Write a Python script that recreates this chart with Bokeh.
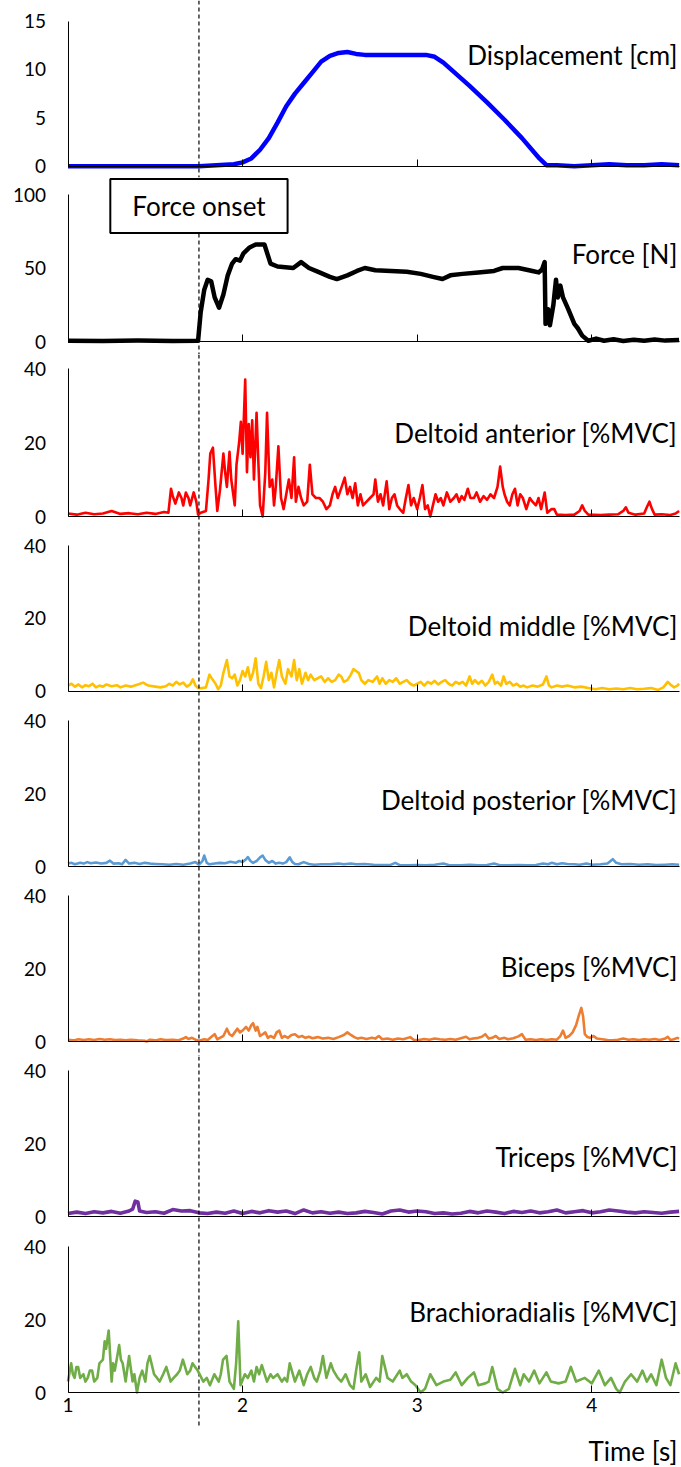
from bokeh.plotting import figure
from bokeh.models import Range1d, Span, Label, FixedTicker
from bokeh.layouts import column
from bokeh.embed import file_html
from bokeh.resources import INLINE

# ---------------- data ----------------
onset = 1.75
x_ticks = [1, 2, 3, 4]
x_start, x_end = 1.0, 4.5

disp_t = [1.0, 1.5, 1.75, 1.85, 1.95, 2.0, 2.05, 2.1, 2.15, 2.2, 2.25, 2.3, 2.35, 2.4, 2.45,
          2.5, 2.55, 2.6, 2.65, 2.7, 2.8, 2.9, 3.0, 3.05, 3.1, 3.15, 3.2, 3.3, 3.4, 3.5,
          3.6, 3.7, 3.74, 3.8, 3.9, 4.0, 4.1, 4.2, 4.3, 4.4, 4.5]
disp_v = [0.0, 0.0, 0.0, 0.1, 0.2, 0.4, 0.8, 1.7, 2.9, 4.5, 6.2, 7.5, 8.6, 9.7, 10.8,
          11.4, 11.7, 11.8, 11.6, 11.5, 11.5, 11.5, 11.5, 11.5, 11.3, 10.7, 9.9, 8.3, 6.6, 4.8,
          2.9, 0.8, 0.1, 0.1, 0.0, 0.1, 0.2, 0.1, 0.1, 0.2, 0.1]

force_t = [1.0, 1.2, 1.4, 1.6, 1.745, 1.76, 1.78, 1.80, 1.82, 1.84, 1.865, 1.89, 1.915, 1.94,
           1.96, 1.985, 2.005, 2.04, 2.075, 2.125, 2.16, 2.2, 2.245, 2.29, 2.335, 2.38, 2.44,
           2.5, 2.54, 2.6, 2.655, 2.7, 2.76, 2.85, 2.94, 3.02, 3.09, 3.145, 3.19, 3.26, 3.35,
           3.44, 3.49, 3.58, 3.66, 3.695, 3.715, 3.73, 3.735, 3.75, 3.76, 3.78, 3.795, 3.805,
           3.82, 3.835, 3.865, 3.9, 3.92, 3.945, 3.98, 4.025, 4.07, 4.125, 4.18, 4.24, 4.3,
           4.36, 4.42, 4.5]
force_v = [0.5, 0.3, 0.6, 0.4, 0.5, 20, 35, 42, 41, 30, 23, 32, 45, 53,
           56, 55, 60, 64, 66, 66, 53, 51, 50.5, 50, 54, 50, 47,
           44, 42.5, 45, 48, 50, 48.5, 48, 47.5, 46, 44, 42.5, 45, 46, 47,
           48, 50, 50, 48, 47, 49, 54, 12, 22, 11, 25, 42, 30,
           38, 30, 22, 12, 9, 4, 0.5, 2, 0.5, 1.5, 0.4, 1.2, 0.5,
           1.3, 0.6, 1.0]

dant_t = [1.00, 1.05, 1.10, 1.15, 1.20, 1.25, 1.30, 1.35, 1.40, 1.45, 1.50, 1.55, 1.575, 1.59,
          1.60, 1.615, 1.635, 1.65, 1.66, 1.675, 1.69, 1.70, 1.72, 1.735, 1.745, 1.76, 1.79,
          1.805, 1.815, 1.83, 1.845, 1.855, 1.87, 1.88, 1.89, 1.90, 1.91, 1.925, 1.935, 1.955,
          1.965, 1.98, 1.99, 2.00, 2.015, 2.025, 2.035, 2.045, 2.055, 2.065, 2.08, 2.09, 2.10,
          2.115, 2.13, 2.14, 2.155, 2.17, 2.18, 2.19, 2.205, 2.22, 2.235, 2.25, 2.265, 2.28,
          2.295, 2.305, 2.32, 2.335, 2.35, 2.37, 2.385, 2.40, 2.42, 2.44, 2.46, 2.48, 2.50,
          2.515, 2.53, 2.545, 2.56, 2.585, 2.60, 2.615, 2.63, 2.645, 2.66, 2.675, 2.69, 2.71,
          2.73, 2.75, 2.76, 2.775, 2.79, 2.805, 2.825, 2.84, 2.855, 2.87, 2.885, 2.90, 2.92,
          2.935, 2.95, 2.965, 2.98, 3.00, 3.015, 3.03, 3.045, 3.06, 3.075, 3.09, 3.105, 3.12,
          3.135, 3.15, 3.17, 3.19, 3.21, 3.225, 3.24, 3.255, 3.27, 3.29, 3.305, 3.325, 3.34,
          3.36, 3.38, 3.40, 3.42, 3.44, 3.46, 3.475, 3.49, 3.50, 3.515, 3.53, 3.545, 3.56,
          3.575, 3.59, 3.605, 3.625, 3.645, 3.66, 3.68, 3.695, 3.71, 3.73, 3.745, 3.77, 3.785,
          3.80, 3.85, 3.90, 3.93, 3.945, 3.96, 3.98, 4.05, 4.10, 4.15, 4.18, 4.195, 4.21, 4.25,
          4.30, 4.315, 4.33, 4.345, 4.36, 4.40, 4.45, 4.48, 4.50]
dant_v = [0.8, 0.5, 1.0, 0.6, 0.8, 1.5, 0.7, 0.9, 0.6, 1.0, 0.7, 1.2, 1.0, 7.5,
          5.5, 3.5, 6.5, 5.0, 3.0, 6.5, 5.0, 3.0, 6.5, 4.0, 0.5, 1.0, 1.5,
          10, 17, 18.6, 8, 1.5, 7, 12, 17, 12, 8, 17.5, 10, 3,
          14, 20, 25.6, 17, 37, 12, 25, 16, 26, 10, 28, 15, 3,
          0, 12, 28, 8, 10, 3, 8, 19, 5, 2, 6, 10, 5,
          16, 4, 8, 5, 3, 4, 14, 6, 5, 5, 4, 2, 3,
          6, 8, 5, 7, 10.5, 6, 8, 5, 9, 3, 6, 3, 4,
          5, 6, 10, 4, 6, 3, 9.5, 2, 5, 6, 3, 2, 1,
          5, 8.5, 3, 5, 2, 5, 8.5, 2, 3, 0, 3, 6, 4,
          5, 3, 6.5, 4, 5, 6, 4, 5.5, 4.5, 7.5, 5, 5, 6.5,
          4, 5.5, 4.5, 6, 5, 8, 13.5, 8, 6, 4, 3, 6, 7.5,
          3, 6, 5, 2, 5, 4, 3, 5, 2, 6.5, 1, 2, 2,
          0.5, 0.4, 0.5, 1.5, 3, 1.5, 0.5, 0.4, 0.5, 0.6, 1.5, 2.5, 1, 0.5,
          0.8, 2.5, 4, 2, 0.5, 0.6, 0.4, 0.8, 1.5]

dmid_t = [1.00, 1.02, 1.04, 1.06, 1.08, 1.10, 1.12, 1.14, 1.16, 1.18, 1.20, 1.22, 1.25, 1.28,
          1.30, 1.33, 1.36, 1.40, 1.43, 1.46, 1.50, 1.53, 1.56, 1.58, 1.60, 1.62, 1.64, 1.66,
          1.68, 1.70, 1.715, 1.73, 1.745, 1.77, 1.79, 1.81, 1.83, 1.845, 1.86, 1.875, 1.89,
          1.91, 1.925, 1.94, 1.955, 1.97, 1.985, 2.00, 2.015, 2.03, 2.045, 2.06, 2.075, 2.09,
          2.105, 2.12, 2.135, 2.15, 2.165, 2.18, 2.195, 2.21, 2.225, 2.245, 2.26, 2.28, 2.295,
          2.31, 2.325, 2.34, 2.36, 2.375, 2.39, 2.41, 2.43, 2.45, 2.47, 2.49, 2.51, 2.53, 2.55,
          2.565, 2.58, 2.60, 2.62, 2.635, 2.65, 2.665, 2.68, 2.70, 2.72, 2.745, 2.77, 2.785,
          2.80, 2.82, 2.84, 2.86, 2.88, 2.90, 2.92, 2.94, 2.96, 2.98, 3.00, 3.02, 3.04, 3.06,
          3.08, 3.10, 3.12, 3.14, 3.16, 3.18, 3.20, 3.22, 3.24, 3.26, 3.28, 3.30, 3.315, 3.33,
          3.35, 3.37, 3.39, 3.41, 3.43, 3.445, 3.46, 3.48, 3.495, 3.51, 3.53, 3.55, 3.57, 3.59,
          3.61, 3.63, 3.66, 3.69, 3.72, 3.74, 3.755, 3.77, 3.80, 3.83, 3.86, 3.90, 3.94, 3.98,
          4.02, 4.06, 4.10, 4.14, 4.18, 4.22, 4.26, 4.30, 4.34, 4.38, 4.41, 4.435, 4.45, 4.47,
          4.49, 4.50]
dmid_v = [1.5, 2.0, 1.2, 1.8, 1.0, 1.6, 1.3, 2.0, 1.0, 1.5, 1.2, 1.8, 1.3, 1.6,
          1.0, 1.5, 1.2, 1.8, 2.3, 1.5, 1.2, 1.0, 1.3, 2.0, 1.5, 2.5, 1.8, 2.3,
          1.2, 1.8, 3.2, 1.5, 0.8, 0.8, 1.0, 4.5, 3.0, 2.0, 0.5, 1.5, 5.0,
          8.5, 4.0, 3.5, 4.5, 1.5, 3.0, 5.5, 4.0, 6.5, 3.0, 5.0, 9.0, 2.0,
          0.8, 4.0, 8.0, 3.0, 5.0, 1.0, 5.0, 8.5, 4.0, 2.0, 6.0, 4.0, 8.5,
          3.0, 6.0, 2.0, 5.0, 3.0, 4.5, 3.0, 3.5, 4.0, 2.5, 3.5, 2.5, 3.0, 4.5,
          4.0, 2.5, 3.0, 4.5, 6.0, 5.5, 5.0, 3.0, 2.0, 3.0, 2.5, 4.0, 2.0,
          3.5, 2.0, 3.0, 2.5, 3.5, 2.0, 2.5, 3.0, 2.0, 1.5, 2.0, 2.5, 1.5, 2.5,
          2.0, 2.8, 1.8, 2.5, 3.0, 2.0, 1.5, 2.5, 2.0, 2.5, 1.5, 4.0, 2.0, 3.0,
          2.0, 2.8, 1.5, 2.5, 4.5, 2.0, 2.5, 1.5, 4.0, 2.0, 2.5, 1.5, 2.0, 1.2,
          1.5, 1.0, 1.5, 1.2, 1.8, 4.0, 1.5, 1.0, 1.5, 1.2, 1.5, 1.0, 1.2, 0.8,
          0.5, 0.8, 0.5, 0.7, 0.5, 0.8, 0.5, 0.6, 0.8, 0.3, 1.0, 2.5, 1.8, 1.0,
          1.5, 2.0]

dpos_t = [1.00, 1.02, 1.04, 1.07, 1.09, 1.11, 1.13, 1.16, 1.19, 1.22, 1.24, 1.26, 1.29, 1.31,
          1.33, 1.35, 1.38, 1.41, 1.44, 1.47, 1.50, 1.54, 1.58, 1.62, 1.66, 1.70, 1.73, 1.75,
          1.77, 1.78, 1.795, 1.81, 1.84, 1.87, 1.90, 1.93, 1.96, 1.98, 2.00, 2.02, 2.03, 2.045,
          2.06, 2.08, 2.10, 2.115, 2.13, 2.15, 2.17, 2.19, 2.21, 2.23, 2.25, 2.27, 2.285, 2.30,
          2.32, 2.35, 2.38, 2.41, 2.45, 2.50, 2.55, 2.58, 2.62, 2.65, 2.70, 2.75, 2.80, 2.85,
          2.875, 2.90, 2.95, 3.00, 3.05, 3.10, 3.15, 3.18, 3.25, 3.30, 3.35, 3.40, 3.44, 3.47,
          3.52, 3.58, 3.63, 3.68, 3.72, 3.75, 3.77, 3.80, 3.83, 3.86, 3.90, 3.93, 3.97, 4.00,
          4.05, 4.09, 4.12, 4.14, 4.17, 4.22, 4.27, 4.32, 4.37, 4.42, 4.46, 4.50]
dpos_v = [0.8, 1.0, 0.6, 1.0, 0.8, 1.2, 0.9, 1.1, 0.8, 1.0, 1.6, 0.8, 0.9, 0.6,
          1.8, 0.8, 1.0, 0.7, 1.0, 0.8, 0.7, 0.6, 0.5, 0.7, 0.5, 0.8, 1.2, 0.5,
          1.5, 3.0, 1.0, 0.6, 0.8, 1.0, 0.9, 1.3, 1.0, 1.5, 1.2, 2.0, 2.6, 1.5,
          1.0, 1.5, 2.5, 3.0, 1.8, 1.0, 1.5, 0.8, 1.0, 0.8, 1.2, 2.5, 1.2, 0.7,
          0.6, 1.2, 0.7, 0.5, 0.6, 0.6, 0.8, 0.6, 0.8, 0.6, 0.7, 0.5, 0.4, 0.5,
          1.0, 0.4, 0.3, 0.4, 0.3, 0.5, 0.8, 0.4, 0.3, 0.5, 0.3, 0.4, 0.8, 0.4,
          0.3, 0.4, 0.3, 0.4, 0.8, 0.6, 1.0, 0.6, 0.9, 0.7, 0.6, 0.5, 0.8, 0.5,
          0.6, 0.8, 2.0, 1.0, 0.6, 0.7, 0.5, 0.6, 0.4, 0.5, 0.6, 0.5]

bic_t = [1.00, 1.03, 1.06, 1.09, 1.12, 1.15, 1.18, 1.21, 1.24, 1.27, 1.30, 1.33, 1.36, 1.40,
         1.44, 1.45, 1.47, 1.50, 1.53, 1.56, 1.60, 1.63, 1.66, 1.675, 1.69, 1.71, 1.73, 1.75,
         1.78, 1.80, 1.82, 1.84, 1.855, 1.87, 1.89, 1.91, 1.925, 1.94, 1.955, 1.97, 1.985,
         2.00, 2.02, 2.035, 2.05, 2.06, 2.075, 2.085, 2.10, 2.115, 2.13, 2.145, 2.16, 2.18,
         2.195, 2.21, 2.225, 2.24, 2.26, 2.28, 2.30, 2.32, 2.34, 2.36, 2.38, 2.40, 2.43, 2.46,
         2.49, 2.52, 2.55, 2.58, 2.60, 2.62, 2.64, 2.66, 2.68, 2.71, 2.74, 2.76, 2.78, 2.80,
         2.83, 2.86, 2.89, 2.92, 2.96, 2.98, 3.01, 3.04, 3.07, 3.10, 3.13, 3.16, 3.19, 3.22,
         3.25, 3.28, 3.30, 3.32, 3.35, 3.37, 3.39, 3.41, 3.43, 3.45, 3.47, 3.50, 3.52, 3.55,
         3.58, 3.60, 3.62, 3.65, 3.68, 3.71, 3.74, 3.77, 3.80, 3.82, 3.835, 3.85, 3.87, 3.89,
         3.91, 3.925, 3.94, 3.95, 3.96, 3.975, 3.99, 4.01, 4.03, 4.06, 4.09, 4.12, 4.15, 4.18,
         4.21, 4.24, 4.27, 4.30, 4.33, 4.36, 4.39, 4.42, 4.435, 4.45, 4.47, 4.49, 4.50]
bic_v = [0.5, 0.3, 0.6, 0.4, 0.6, 0.4, 0.7, 0.5, 0.6, 0.4, 0.5, 0.3, 0.5, 0.3,
         0.2, 0.0, 0.5, 0.3, 0.6, 0.4, 0.5, 0.3, 0.8, 1.2, 0.7, 1.0, 0.5, 0.2,
         0.6, 0.4, 1.2, 2.0, 0.6, 1.0, 1.5, 3.5, 2.0, 1.5, 2.5, 3.5, 2.5,
         3.0, 4.0, 3.0, 4.5, 5.0, 3.0, 4.0, 1.5, 2.0, 2.5, 1.0, 1.5, 1.0,
         2.5, 3.0, 1.0, 1.5, 1.0, 1.8, 2.0, 1.2, 1.5, 1.0, 1.3, 0.9, 1.2, 0.8,
         1.0, 0.7, 1.2, 1.8, 2.5, 1.8, 1.2, 0.8, 1.0, 0.7, 1.0, 0.8, 1.5, 0.6,
         0.8, 0.5, 0.8, 0.6, 1.2, 0.5, 0.4, 0.7, 0.5, 0.8, 0.6, 0.5, 0.7, 0.5,
         0.9, 1.3, 0.6, 0.8, 1.0, 1.3, 2.0, 0.8, 1.0, 1.5, 0.7, 1.0, 0.6, 0.9,
         1.4, 2.0, 0.5, 0.6, 0.4, 0.6, 0.4, 0.6, 0.5, 1.5, 3.0, 1.0, 1.5, 2.5,
         4.5, 7.0, 9.2, 7.0, 2.0, 1.2, 1.0, 1.5, 0.8, 0.6, 0.4, 0.3, 0.5, 0.8,
         0.5, 0.6, 0.4, 0.6, 0.5, 0.7, 0.4, 0.8, 1.3, 0.4, 0.6, 1.0, 0.8]

tri_t = [1.0, 1.05, 1.1, 1.15, 1.2, 1.25, 1.3, 1.35, 1.37, 1.385, 1.40, 1.41, 1.45, 1.5, 1.55,
         1.6, 1.65, 1.7, 1.75, 1.8, 1.85, 1.9, 1.95, 2.0, 2.05, 2.1, 2.15, 2.2, 2.25, 2.3, 2.35,
         2.4, 2.45, 2.5, 2.55, 2.6, 2.65, 2.7, 2.75, 2.8, 2.85, 2.9, 2.95, 3.0, 3.05, 3.1, 3.15,
         3.2, 3.25, 3.3, 3.35, 3.4, 3.45, 3.5, 3.55, 3.6, 3.65, 3.7, 3.75, 3.8, 3.85, 3.9, 3.95,
         4.0, 4.05, 4.1, 4.15, 4.2, 4.25, 4.3, 4.35, 4.4, 4.45, 4.5]
tri_v = [0.8, 1.2, 0.8, 1.3, 1.0, 1.4, 0.9, 1.5, 2.0, 4.2, 4.0, 1.5, 1.1, 1.3, 0.9,
         1.9, 1.5, 1.6, 1.0, 0.8, 1.2, 0.9, 1.5, 0.8, 1.4, 1.0, 1.6, 1.2, 1.5, 0.8, 1.8,
         1.0, 1.3, 0.9, 1.2, 0.8, 1.0, 1.4, 1.1, 0.7, 1.5, 1.8, 1.2, 1.5, 1.3, 0.8, 1.0,
         0.7, 0.9, 1.4, 1.0, 1.5, 1.2, 0.8, 1.4, 1.1, 1.5, 1.0, 1.3, 1.8, 1.0, 1.3, 1.6,
         1.0, 1.3, 1.8, 1.5, 1.2, 1.0, 1.3, 1.1, 0.9, 1.2, 1.4]

brach_t = [1.0, 1.018, 1.028, 1.038, 1.048, 1.058, 1.07, 1.088, 1.1, 1.113, 1.125, 1.138, 1.15,
           1.168, 1.18, 1.2, 1.21, 1.218, 1.233, 1.25, 1.258, 1.268, 1.293, 1.303, 1.313,
           1.33, 1.35, 1.37, 1.38, 1.395, 1.41, 1.425, 1.443, 1.455, 1.468, 1.493, 1.51, 1.525,
           1.545, 1.563, 1.588, 1.605, 1.625, 1.64, 1.658, 1.683, 1.7, 1.713, 1.728, 1.743,
           1.775, 1.795, 1.813, 1.838, 1.863, 1.875, 1.888, 1.908, 1.925, 1.95, 1.963, 1.975,
           1.988, 2.013, 2.03, 2.05, 2.065, 2.08, 2.095, 2.11, 2.14, 2.16, 2.175, 2.2, 2.225,
           2.24, 2.255, 2.27, 2.3, 2.325, 2.35, 2.37, 2.39, 2.41, 2.425, 2.445, 2.46, 2.48,
           2.505, 2.52, 2.545, 2.565, 2.59, 2.615, 2.635, 2.65, 2.668, 2.68, 2.705, 2.73,
           2.765, 2.785, 2.8, 2.83, 2.86, 2.9, 2.915, 2.94, 2.965, 2.99, 3.02, 3.045, 3.075,
           3.11, 3.15, 3.19, 3.22, 3.255, 3.29, 3.325, 3.35, 3.39, 3.41, 3.43, 3.46, 3.49,
           3.525, 3.56, 3.59, 3.61, 3.64, 3.67, 3.7, 3.74, 3.765, 3.81, 3.85, 3.88, 3.91,
           3.96, 4.0, 4.04, 4.075, 4.11, 4.14, 4.16, 4.19, 4.225, 4.26, 4.29, 4.315, 4.34,
           4.37, 4.4, 4.425, 4.45, 4.48, 4.5]
brach_v = [3, 8, 5, 4, 7, 7, 4, 5, 3, 4, 6, 6, 3,
           4, 8, 9, 14, 12, 17, 3, 8, 6, 13, 9, 8,
           3, 10, 3, 5, 0, 4, 6, 3, 8, 10, 5, 4, 3,
           5, 7, 3, 4, 5, 6, 9, 5, 6, 8, 7, 6,
           3, 4, 2, 5, 3, 5, 9, 10, 3, 1, 8, 19.5,
           2, 5, 4, 6, 3, 7, 5, 7.5, 3, 5, 4, 5, 3,
           4, 3, 8, 3, 6, 2, 5, 7, 4, 3, 6, 10, 4,
           8, 6, 4, 3, 5, 2, 1, 6, 11, 3, 5, 1.5,
           4, 3, 10, 4, 3, 6, 4, 5, 3, 2, 0, 1, 5,
           2, 3, 3.5, 5.5, 2, 4, 5.5, 2, 2.5, 3, 7, 1, 0,
           1, 6.5, 2, 5, 3, 6, 2.5, 5.5, 3, 2.5, 3, 7, 3,
           4, 2.5, 6, 2, 4, 1, 0, 3, 5, 3, 6, 3, 5,
           2, 9, 4, 2, 8, 5]

series = [
    ("Displacement [cm]", disp_t, disp_v, "#0000FF", 15, [0, 5, 10, 15], 4.5),
    ("Force [N]", force_t, force_v, "#000000", 100, [0, 50, 100], 4.5),
    ("Deltoid anterior [%MVC]", dant_t, dant_v, "#FF0000", 40, [0, 20, 40], 2.6),
    ("Deltoid middle [%MVC]", dmid_t, dmid_v, "#FFC000", 40, [0, 20, 40], 2.6),
    ("Deltoid posterior [%MVC]", dpos_t, dpos_v, "#5B9BD5", 40, [0, 20, 40], 2.6),
    ("Biceps [%MVC]", bic_t, bic_v, "#ED7D31", 40, [0, 20, 40], 2.6),
    ("Triceps [%MVC]", tri_t, tri_v, "#7030A0", 40, [0, 20, 40], 3.6),
    ("Brachioradialis [%MVC]", brach_t, brach_v, "#70AD47", 40, [0, 20, 40], 2.6),
]

# ---------------- layout (page pixels) ----------------
W = 681
X1_PX = 67.5          # page x of t = 1
PX_PER_S = 174.6      # page pixels per second
bounds_px = [0, 177, 354.5, 530.5, 705, 880.5, 1055.5, 1231, 1467]
zero_px = [165.7, 341, 516, 690.5, 866, 1041, 1216, 1392]
top_px = [20.5, 194, 368, 545, 720, 895, 1070, 1246]
label_px = [54, 253, 432, 625, 799, 966, 1156, 1311]
box_center_px = 205.5
time_label_px = 1450
dash_end_px = 1425

FONT = "Lato"
TICK_SIZE = "19px"
LABEL_SIZE = "26px"

xr_start = x_start - X1_PX / PX_PER_S
xr_end = x_start + (W - X1_PX) / PX_PER_S

figs = []
n = len(series)
for i, (name, tt, vv, col, vmax, yt, lw) in enumerate(series):
    h = int(round(bounds_px[i + 1])) - int(round(bounds_px[i]))
    top_b = int(round(bounds_px[i]))
    bot_b = top_b + h
    s = (zero_px[i] - top_px[i]) / vmax
    y0 = -(bot_b - zero_px[i]) / s
    y1 = vmax + (top_px[i] - top_b) / s
    p = figure(width=W, height=h, output_backend="svg", toolbar_location=None,
               x_range=Range1d(xr_start, xr_end), y_range=Range1d(y0, y1),
               min_border_left=0, min_border_right=0,
               min_border_top=0, min_border_bottom=0)
    p.outline_line_color = None
    p.grid.visible = False
    p.background_fill_color = "white"
    p.border_fill_color = "white"

    # y axis fixed at t = 1
    ya = p.yaxis[0]
    ya.fixed_location = x_start
    ya.ticker = FixedTicker(ticks=yt)
    ya.bounds = (0, vmax)
    ya.major_tick_in = 0
    ya.major_tick_out = 0
    ya.minor_tick_in = 0
    ya.minor_tick_out = 0
    ya.axis_line_color = "black"
    ya.axis_line_width = 1
    ya.major_label_text_font = FONT
    ya.major_label_text_font_size = TICK_SIZE
    ya.major_label_text_color = "black"
    ya.major_label_standoff = 22

    # x axis fixed at 0
    xa = p.xaxis[0]
    xa.fixed_location = 0
    xa.ticker = FixedTicker(ticks=x_ticks)
    xa.bounds = (x_start, x_end)
    xa.major_tick_in = 7
    xa.major_tick_out = 0
    xa.minor_tick_in = 0
    xa.minor_tick_out = 0
    xa.axis_line_color = "black"
    xa.axis_line_width = 1
    xa.major_tick_line_color = "black"
    xa.major_label_text_font = FONT
    xa.major_label_text_font_size = TICK_SIZE
    xa.major_label_standoff = 5
    xa.major_label_text_color = "black" if i == n - 1 else None

    if i < n - 1:
        p.add_layout(Span(location=onset, dimension="height", line_color="black",
                          line_width=1.2, line_dash="4 3"))
    else:
        p.segment(x0=[onset], y0=[(zero_px[i] - dash_end_px) / s], x1=[onset], y1=[y1],
                  line_color="black", line_width=1.2, line_dash="4 3")

    p.line(tt, vv, line_color=col, line_width=lw, line_join="round")

    ly = (zero_px[i] - label_px[i]) / s
    p.add_layout(Label(x=x_end - 0.01, y=ly, text=name, text_align="right",
                       text_baseline="middle", text_font=FONT,
                       text_font_size=LABEL_SIZE, text_color="black"))
    if i == 1:
        p.add_layout(Label(x=onset, y=(zero_px[i] - box_center_px) / s, text="Force onset",
                           text_align="center", text_baseline="middle",
                           text_font=FONT, text_font_size=LABEL_SIZE,
                           text_color="black", background_fill_color="white",
                           border_line_color="black", border_line_width=2,
                           padding=dict(left=22, right=22, top=11, bottom=11)))
    if i == n - 1:
        p.add_layout(Label(x=x_end - 0.01, y=(zero_px[i] - time_label_px) / s,
                           text="Time [s]", text_align="right", text_baseline="middle",
                           text_font=FONT, text_font_size=LABEL_SIZE,
                           text_color="black"))
    figs.append(p)

layout = column(*figs, spacing=0)
open("out.html", "w").write(file_html(layout, INLINE))
